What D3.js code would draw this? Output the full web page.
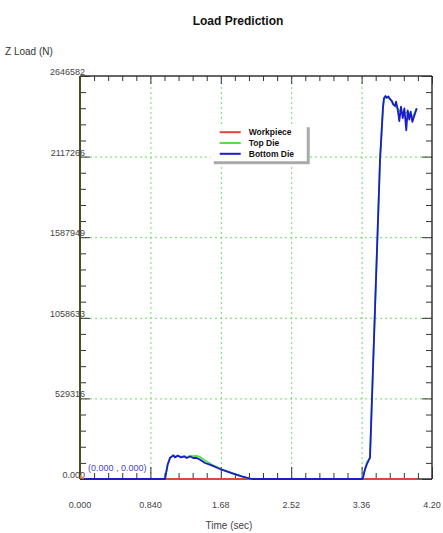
<!DOCTYPE html>
<html>
<head>
<meta charset="utf-8">
<script src="https://cdn.jsdelivr.net/npm/d3@7/dist/d3.min.js"></script>
<style>
  html, body { margin: 0; padding: 0; background: #fff; }
  svg { display: block; font-family: "Liberation Sans", Arial, sans-serif; }
  .grid line { stroke: #66dd66; stroke-dasharray: 2,3; stroke-width: 1; }
  .grid path { display: none; }
  .ticks line { stroke: #333; }
  .ticks path { display: none; }
  .ticks text { display: none; }
</style>
</head>
<body>
<svg id="chart" width="443" height="533"></svg>
<script>
// values (time in sec, Z load in N)
const xTicks = [0, 0.84, 1.68, 2.52, 3.36, 4.20];
const xTickLabels = ["0.000", "0.840", "1.68", "2.52", "3.36", "4.20"];
const yTicks = [0, 529316, 1058633, 1587949, 2117266, 2646582];
const yTickLabels = ["0.000", "529316", "1058633", "1587949", "2117266", "2646582"];

const seriesNames = ["Workpiece", "Top Die", "Bottom Die"];
const seriesColors = ["#e0443a", "#55dd4e", "#1c1ccc"];

const workpiece = [[0, 0], [4.02, 0]];

const topDie = [
  [0, 0], [1.014, 0], [1.046, 96000], [1.074, 140000], [1.113, 157000], [1.133, 145000],
  [1.166, 155000], [1.205, 145000], [1.245, 150000], [1.273, 142000], [1.313, 152000],
  [1.352, 150000], [1.392, 152000], [1.432, 145000], [1.492, 122000], [1.571, 95000],
  [1.691, 63000], [1.810, 40000], [1.929, 17000], [2.049, 0], [3.373, 0], [3.400, 70000],
  [3.425, 112000], [3.460, 140000], [3.520, 1118000], [3.580, 2096000], [3.600, 2293000],
  [3.615, 2437000], [3.627, 2500000], [3.660, 2505000], [3.699, 2495000], [3.738, 2460000],
  [3.790, 2430000], [3.850, 2400000], [3.910, 2410000], [3.970, 2380000], [4.018, 2434000]
];

const bottomDie = [
  [0, 0], [1.014, 0], [1.046, 94000], [1.074, 138000], [1.113, 155000], [1.133, 142000],
  [1.166, 153000], [1.205, 142000], [1.245, 148000], [1.273, 138000], [1.313, 148000],
  [1.352, 138000], [1.392, 138000], [1.432, 127000], [1.492, 105000], [1.571, 89000],
  [1.691, 61000], [1.810, 39000], [1.929, 17000], [2.049, 0], [3.373, 0], [3.400, 61000],
  [3.425, 100000], [3.460, 140000], [3.520, 1118000], [3.580, 2096000], [3.600, 2293000],
  [3.615, 2437000], [3.627, 2500000], [3.645, 2515000], [3.660, 2505000], [3.679, 2512000],
  [3.699, 2495000], [3.719, 2485000], [3.738, 2460000], [3.759, 2450000], [3.771, 2478000],
  [3.790, 2430000], [3.810, 2350000], [3.830, 2445000], [3.851, 2370000], [3.870, 2434000],
  [3.893, 2290000], [3.910, 2420000], [3.929, 2360000], [3.946, 2412000], [3.965, 2345000],
  [3.989, 2385000], [4.018, 2434000]
];

const allSeries = [workpiece, topDie, bottomDie];

const margin = { top: 76, right: 11, bottom: 54, left: 80 };
const W = 443, H = 533;
const iw = W - margin.left - margin.right;
const ih = H - margin.top - margin.bottom;

const svg = d3.select("#chart");
const g = svg.append("g").attr("transform", `translate(${margin.left},${margin.top})`);

const x = d3.scaleLinear().domain([0, 4.2]).range([0, iw]);
const y = d3.scaleLinear().domain([0, 2646582]).range([ih, 0]);

// minor ticks: 4 between each pair of majors
function minorOf(ticks) {
  const out = [];
  for (let i = 0; i < ticks.length - 1; i++) {
    const step = (ticks[i + 1] - ticks[i]) / 5;
    for (let k = 1; k < 5; k++) out.push(ticks[i] + step * k);
  }
  return out;
}
const xMinor = minorOf(xTicks);
const yMinor = minorOf(yTicks);

// grid
g.append("g").attr("class", "grid")
  .attr("transform", `translate(0,${ih})`)
  .call(d3.axisBottom(x).tickValues(xTicks.slice(1, -1)).tickSize(-ih).tickFormat(""));
g.append("g").attr("class", "grid")
  .call(d3.axisLeft(y).tickValues(yTicks.slice(1, -1)).tickSize(-iw).tickFormat(""));

// ticks on all four sides, pointing inward
const tickSets = [
  [d3.axisBottom(x), `translate(0,${ih})`, xTicks, xMinor, -12, -6],
  [d3.axisTop(x), null, xTicks, xMinor, -8, -5],
  [d3.axisLeft(y), null, yTicks, yMinor, -10, -6],
  [d3.axisRight(y), `translate(${iw},0)`, yTicks, yMinor, -10, -6]
];
tickSets.forEach(([ax, tr, major, minor, majLen, minLen]) => {
  const a = g.append("g").attr("class", "ticks");
  if (tr) a.attr("transform", tr);
  a.call(ax.tickValues(major).tickSize(majLen));
  const b = g.append("g").attr("class", "ticks");
  if (tr) b.attr("transform", tr);
  b.call(ax.tickValues(minor).tickSize(minLen));
});

// frame
g.append("line").attr("x1", 0).attr("x2", iw).attr("y1", 0).attr("y2", 0)
  .attr("stroke", "#333").attr("stroke-width", 1.5);
g.append("line").attr("x1", iw).attr("x2", iw).attr("y1", 0).attr("y2", ih)
  .attr("stroke", "#333").attr("stroke-width", 1.5);
g.append("line").attr("x1", 0).attr("x2", iw).attr("y1", ih).attr("y2", ih)
  .attr("stroke", "#333").attr("stroke-width", 1.5);
g.append("line").attr("x1", 0).attr("x2", 0).attr("y1", 0).attr("y2", ih)
  .attr("stroke", "#4d4d1f").attr("stroke-width", 2);

// tick labels
g.selectAll(".xl").data(xTicks).join("text")
  .attr("x", d => x(d)).attr("y", ih + 29)
  .attr("text-anchor", "middle").attr("font-size", 9).attr("fill", "#444")
  .text((d, i) => xTickLabels[i]);
g.selectAll(".yl").data(yTicks).join("text")
  .attr("x", 5).attr("y", d => y(d) - 1)
  .attr("text-anchor", "end").attr("font-size", 9).attr("fill", "#444")
  .text((d, i) => yTickLabels[i]);

// lines
const line = d3.line().x(d => x(d[0])).y(d => y(d[1]));
allSeries.forEach((s, i) => {
  g.append("path").datum(s)
    .attr("fill", "none")
    .attr("stroke", seriesColors[i])
    .attr("stroke-width", 1.8)
    .attr("stroke-linejoin", "round")
    .attr("d", line);
});

// origin marker and coordinate readout
g.append("path")
  .attr("d", `M${x(0) + 1},${y(0) - 4}L${x(0) + 1},${y(0) - 1}L${x(0) + 4},${y(0) - 1}`)
  .attr("fill", "none").attr("stroke", "#ff8a1a").attr("stroke-width", 1.5);
g.append("text").attr("x", x(0) + 8).attr("y", y(0) - 8)
  .attr("font-size", 9).attr("fill", "#4444cc").text("(0.000 , 0.000)");

// legend
const lg = g.append("g").attr("transform", `translate(${x(1.56)},${y(2330000)})`);
lg.append("rect").attr("x", 3).attr("y", 3).attr("width", 96).attr("height", 37).attr("fill", "#aaa");
lg.append("rect").attr("x", 0).attr("y", 0).attr("width", 96).attr("height", 37).attr("fill", "#fff");
seriesNames.forEach((name, i) => {
  const yy = 8 + i * 10.8;
  lg.append("line").attr("x1", 9).attr("x2", 30).attr("y1", yy).attr("y2", yy)
    .attr("stroke", seriesColors[i]).attr("stroke-width", 2);
  lg.append("text").attr("x", 38).attr("y", yy + 3).attr("font-size", 8.5)
    .attr("font-weight", "bold").attr("fill", "#111").text(name);
});

// titles
svg.append("text").attr("x", 238).attr("y", 25).attr("text-anchor", "middle")
  .attr("font-size", 12).attr("font-weight", "bold").attr("fill", "#111").text("Load Prediction");
svg.append("text").attr("x", 5).attr("y", 55).attr("font-size", 10).attr("fill", "#333").text("Z Load (N)");
svg.append("text").attr("x", 229).attr("y", 529).attr("text-anchor", "middle")
  .attr("font-size", 10).attr("fill", "#444").text("Time (sec)");
</script>
</body>
</html>
